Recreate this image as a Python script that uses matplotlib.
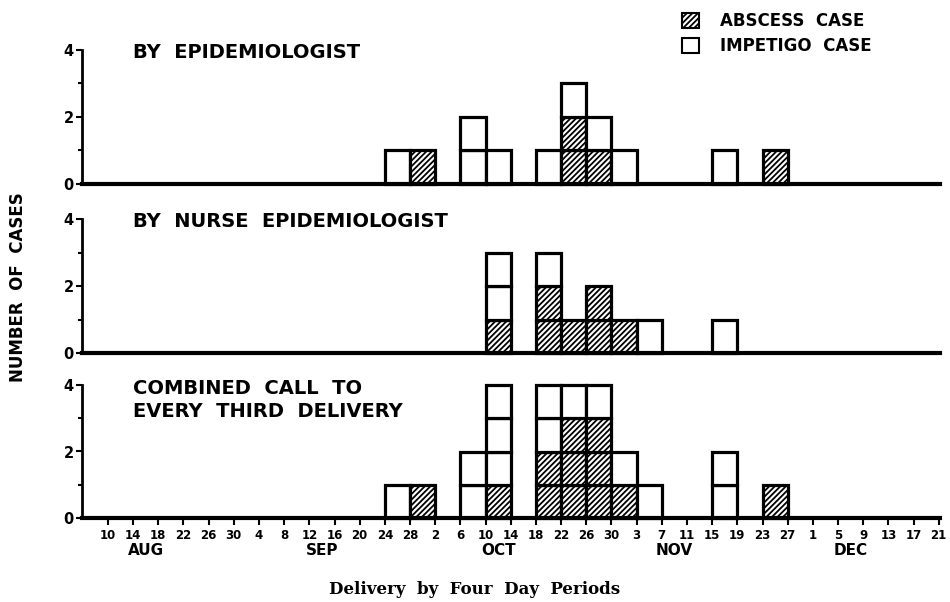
import matplotlib
matplotlib.use("Agg")
import matplotlib.pyplot as plt
from matplotlib.patches import Patch

plt.rcParams['hatch.linewidth'] = 1.3
plt.rcParams['font.family'] = ['DejaVu Sans']

# tick labels for the four-day periods (34 ticks -> 33 intervals)
tick_labels = ['10', '14', '18', '22', '26', '30', '4', '8', '12', '16', '20', '24', '28',
               '2', '6', '10', '14', '18', '22', '26', '30', '3', '7', '11', '15', '19',
               '23', '27', '1', '5', '9', '13', '17', '21']
months = ['AUG', 'SEP', 'OCT', 'NOV', 'DEC']
month_pos = [1.5, 8.5, 15.5, 22.5, 29.5]

panel_titles = ['BY  EPIDEMIOLOGIST', 'BY  NURSE  EPIDEMIOLOGIST',
                'COMBINED  CALL  TO\nEVERY  THIRD  DELIVERY']

# counts per interval (interval i lies between tick i and tick i+1)
epi_abscess = [0, 0, 0, 0, 0, 0, 0, 0, 0, 0, 0, 0, 1, 0, 0, 0, 0, 0, 2, 1, 0, 0, 0, 0, 0, 0, 1, 0, 0, 0, 0, 0, 0]
epi_impetigo = [0, 0, 0, 0, 0, 0, 0, 0, 0, 0, 0, 1, 0, 0, 2, 1, 0, 1, 1, 1, 1, 0, 0, 0, 1, 0, 0, 0, 0, 0, 0, 0, 0]
nurse_abscess = [0, 0, 0, 0, 0, 0, 0, 0, 0, 0, 0, 0, 0, 0, 0, 1, 0, 2, 1, 2, 1, 0, 0, 0, 0, 0, 0, 0, 0, 0, 0, 0, 0]
nurse_impetigo = [0, 0, 0, 0, 0, 0, 0, 0, 0, 0, 0, 0, 0, 0, 0, 2, 0, 1, 0, 0, 0, 1, 0, 0, 1, 0, 0, 0, 0, 0, 0, 0, 0]
comb_abscess = [0, 0, 0, 0, 0, 0, 0, 0, 0, 0, 0, 0, 1, 0, 0, 1, 0, 2, 3, 3, 1, 0, 0, 0, 0, 0, 1, 0, 0, 0, 0, 0, 0]
comb_impetigo = [0, 0, 0, 0, 0, 0, 0, 0, 0, 0, 0, 1, 0, 0, 2, 3, 0, 2, 1, 1, 1, 1, 0, 0, 2, 0, 0, 0, 0, 0, 0, 0, 0]

panels = [(epi_abscess, epi_impetigo), (nurse_abscess, nurse_impetigo), (comb_abscess, comb_impetigo)]

fig = plt.figure(figsize=(9.5, 6.02), dpi=100)
ax_left, ax_width = 82 / 950, 858 / 950
boxes = [(0.6944, 0.2226), (0.4136, 0.2226), (0.1395, 0.2210)]
title_y = [1.055, 1.05, 1.045]

lw = 2.3
for p, ((ab, imp), (bot, h)) in enumerate(zip(panels, boxes)):
    ax = fig.add_axes([ax_left, bot, ax_width, h])
    for i in range(len(ab)):
        for k in range(ab[i]):
            ax.bar(i, 1, bottom=k, width=1, align='edge', facecolor='white',
                   edgecolor='black', hatch='//////', linewidth=lw, clip_on=False, zorder=3)
        for k in range(imp[i]):
            ax.bar(i, 1, bottom=ab[i] + k, width=1, align='edge', facecolor='white',
                   edgecolor='black', linewidth=lw, clip_on=False, zorder=3)
    ax.set_xlim(-1.03, 33.05)
    ax.set_ylim(0, 4)
    for s in ['top', 'right']:
        ax.spines[s].set_visible(False)
    ax.spines['left'].set_linewidth(2)
    ax.spines['bottom'].set_linewidth(3)
    ax.spines['bottom'].set_zorder(4)
    ax.set_yticks([0, 2, 4])
    ax.set_yticks([1, 3], minor=True)
    ax.tick_params(axis='y', which='major', length=4, width=1.5, labelsize=10.5, pad=2)
    ax.tick_params(axis='y', which='minor', length=3, width=1.5)
    for t in ax.get_yticklabels():
        t.set_fontweight('bold')
    ax.text(0.06, title_y[p], panel_titles[p], transform=ax.transAxes, fontsize=14,
            fontweight='bold', va='top', ha='left', linespacing=1.3)
    if p < 2:
        ax.set_xticks([])
    else:
        ax.set_xticks(range(len(tick_labels)))
        ax.set_xticklabels(tick_labels, fontsize=8.5, fontweight='bold')
        ax.tick_params(axis='x', length=5, width=1.5, pad=3)
        for m, mp in zip(months, month_pos):
            ax.text(mp, -0.19, m, fontsize=11, fontweight='bold', ha='center', va='top',
                    transform=ax.get_xaxis_transform())

fig.text(18 / 950, 1 - 287 / 602, 'NUMBER  OF  CASES', rotation=90, fontsize=12,
         fontweight='bold', ha='center', va='center')
fig.text(475 / 950, 1 - 590 / 602, 'Delivery  by  Four  Day  Periods', fontsize=12,
         fontweight='bold', family='DejaVu Serif', ha='center', va='center')

handles = [Patch(facecolor='white', edgecolor='black', hatch='//////', linewidth=1.5),
           Patch(facecolor='white', edgecolor='black', linewidth=1.5)]
leg = fig.legend(handles, ['ABSCESS  CASE', 'IMPETIGO  CASE'], loc='upper left',
                 bbox_to_anchor=(667 / 950, 1.005), frameon=False, handlelength=1.0,
                 handleheight=1.0, handletextpad=1.3, labelspacing=0.45,
                 prop={'weight': 'bold', 'size': 12})

fig.savefig('out.png', dpi=100)
